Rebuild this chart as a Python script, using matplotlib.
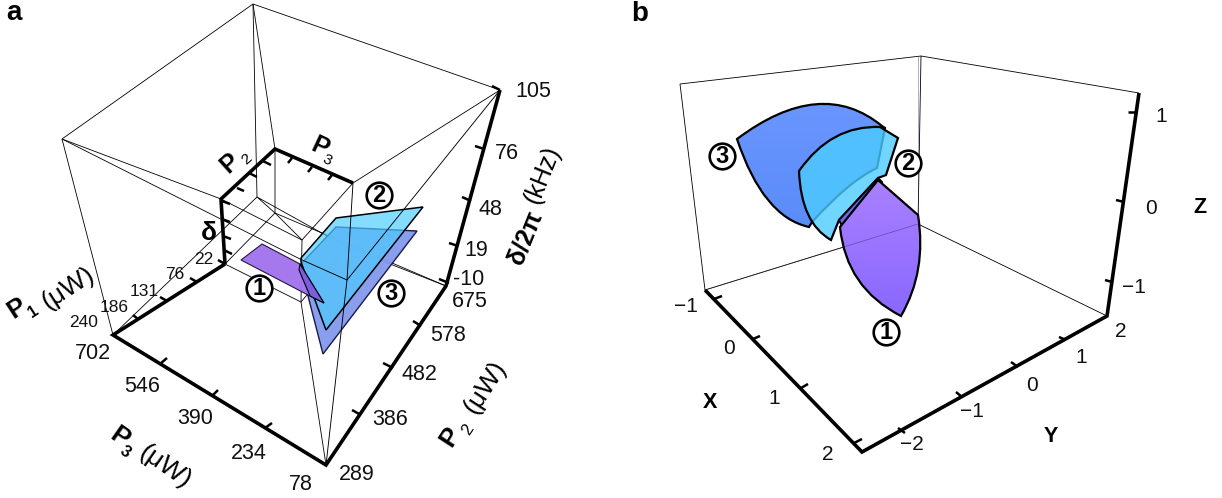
import numpy as np
import matplotlib
matplotlib.use('Agg')
import matplotlib.pyplot as plt
from matplotlib.path import Path
from matplotlib.patches import PathPatch
from matplotlib.colors import LinearSegmentedColormap

plt.rcParams['font.family'] = ['Liberation Sans', 'DejaVu Sans']

# Everything is read off the picture in image pixels (the cubes are already projected)
# panel a, thick box edges
a_thick = [[(225, 264), (113, 335), (326, 465), (446, 286), (500, 90)],
           [(225, 264), (221, 199), (275, 149), (353, 183)]]
# panel a, thin box edges
a_thin = [[(62, 139), (253, 4), (500, 90)], [(62, 139), (113, 335)],
          [(253, 4), (257, 197)], [(253, 4), (275, 149), (275, 213)],
          [(62, 139), (221, 199), (302, 240), (353, 183)],
          [(62, 139), (300, 259)],
          [(500, 90), (353, 183)],
          [(326, 465), (301, 302), (302, 240)], [(225, 264), (301, 302), (347, 247)],
          [(347, 247), (257, 197), (275, 213), (302, 240)],
          [(275, 213), (225, 264)], [(113, 335), (257, 197)],
          [(446, 286), (347, 247)], [(446, 286), (275, 213)]]
# thin edges that stay dark over the surfaces
a_front = [[(300, 259), (347, 280), (500, 90)], [(326, 465), (347, 280), (353, 183)]]
a_ticks = [[(160, 364), (167, 358)], [(212, 396), (218, 390)], [(265, 428), (272, 423)],
           [(133, 315), (138, 319)], [(160, 297), (167, 301)], [(190, 278), (197, 282)], [(218, 260), (225, 264)],
           [(352, 410), (361, 415)], [(383, 363), (393, 368)], [(413, 321), (421, 326)],
           [(449, 283), (439, 279)], [(449, 243), (458, 246)], [(462, 197), (471, 201)], [(475, 146), (484, 149)], [(492, 86), (500, 90)],
           [(222, 201), (230, 204)], [(222, 219), (230, 222)], [(223, 236), (231, 239)], [(224, 250), (232, 254)],
           [(237, 188), (244, 191)], [(249, 173), (257, 177)], [(263, 161), (271, 165)],
           [(288, 163), (292, 158)], [(308, 172), (312, 167)], [(328, 180), (332, 175)]]
a_poly3 = [(300, 265), (336, 227), (417, 231), (323, 354)]
a_poly2 = [(301, 258), (336, 218), (423, 207), (326, 330), (301, 262)]
a_poly1 = [(241, 260), (262, 244), (300, 264), (324, 303), (310, 296)]
a_fold1 = [(300, 264), (324, 303), (310, 296), (299, 270)]

a_p3_labels = ['702', '546', '390', '234', '78']
a_p3_xy = [(93, 353), (142, 386), (195, 418), (249, 453), (301, 484)]
a_p2_labels = ['289', '386', '482', '578', '675']
a_p2_xy = [(357, 474), (390, 419), (419, 374), (448, 335), (470, 301)]
a_d_labels = ['-10', '19', '48', '76', '105']
a_d_xy = [(469, 279), (476, 250), (490, 209), (507, 153), (533, 91)]
a_p1_labels = ['240', '186', '131', '76', '22']
a_p1_xy = [(84, 322), (114, 307), (144, 291), (175, 274), (204, 259)]

# panel b
b_thick = [[(705, 290), (862, 452), (1107, 316), (1139, 93)]]
b_thin = [[(705, 290), (680, 84), (921, 56), (1139, 93)], [(921, 56), (918, 224)],
          [(705, 290), (918, 224), (1107, 316)]]
b_ticks = [[(714, 299), (722, 296)], [(753, 339), (760, 336)], [(801, 388), (808, 384)], [(854, 443), (862, 439)],
           [(898, 428), (905, 433)], [(956, 392), (962, 397)], [(1011, 362), (1018, 367)], [(1059, 337), (1066, 340)],
           [(1128, 112), (1136, 112)], [(1116, 200), (1124, 202)], [(1105, 280), (1112, 282)]]
b_x_labels = ['\u22121', '0', '1', '2']
b_x_xy = [(686, 306), (729, 348), (774, 398), (828, 454)]
b_y_labels = ['\u22122', '\u22121', '0', '1', '2']
b_y_xy = [(912, 444), (972, 411), (1032, 385), (1081, 357), (1121, 331)]
b_z_labels = ['\u22121', '0', '1']
b_z_xy = [(1134, 287), (1151, 208), (1161, 116)]
# outlines: a 2-tuple is a straight step, a 4-tuple is control point + end point of a curve
b_shape3 = [(737, 139), (821, 76, 882, 126), (885, 128), (877, 168), (849, 181, 812, 222), (809, 227), (763, 217, 737, 139)]
b_shape2 = [(799, 171), (831, 125, 880, 127), (898, 138), (886, 175), (878, 178), (839, 220), (831, 240), (801, 223, 799, 171)]
b_shape1 = [(878, 180), (918, 215), (927, 271, 901, 316), (846, 288, 840, 227)]
b_strip = [(839, 220), (878, 178), (882, 182), (842, 226)]

circle_labels = ['1', '2', '3', '3', '2', '1']
circle_xy = [(259, 288), (379, 195), (391, 293), (722, 156), (908, 163), (886, 332)]

C_BLUE_A = '#8499ee'
C_CYAN = (0.29, 0.80, 1.0)
C_PURPLE_A = '#a374ee'
C_FOLD = '#7b5de0'


def make_path(shape):
    verts, codes = [shape[0][:2]], [Path.MOVETO]
    for s in shape[1:]:
        if len(s) == 2:
            verts.append(s)
            codes.append(Path.LINETO)
        else:
            verts += [s[:2], s[2:]]
            codes += [Path.CURVE3, Path.CURVE3]
    verts.append(shape[0][:2])
    codes.append(Path.CLOSEPOLY)
    return Path(verts, codes)


def lines(ax, segs, lw, color='black', z=1):
    for seg in segs:
        xy = np.array(seg)
        ax.plot(xy[:, 0], xy[:, 1], color=color, lw=lw, solid_joinstyle='miter', solid_capstyle='butt', zorder=z)


def labels(ax, texts, xy, size):
    for t, (x, y) in zip(texts, xy):
        ax.text(x, y, t, fontsize=size, ha='center', va='center', color='#111111', zorder=6)


def rot_text(ax, x, y, t, size, rot, **kw):
    ax.text(x, y, t, fontsize=size, rotation=rot, ha='center', va='center', rotation_mode='anchor', zorder=6, **kw)


def gradient_fill(ax, shape, c_top, c_bot, z):
    # vertical colour ramp clipped by the outline
    path = make_path(shape)
    ext = path.get_extents()
    cmap = LinearSegmentedColormap.from_list('g', [c_top, c_bot])
    im = ax.imshow(np.linspace(0, 1, 64).reshape(-1, 1), cmap=cmap, aspect='auto', zorder=z,
                   extent=(ext.x0, ext.x1, ext.y1, ext.y0))
    patch = PathPatch(path, transform=ax.transData, fc='none', ec='none')
    ax.add_patch(patch)
    im.set_clip_path(patch)


fig = plt.figure(figsize=(12.22, 4.98), dpi=100)
ax = fig.add_axes([0, 0, 1, 1])

# panel a
lines(ax, a_thin, 0.6)
ax.fill(*zip(*a_poly3), fc=C_BLUE_A, ec='#101040', lw=1.0, alpha=0.95, zorder=2)
ax.fill(*zip(*a_poly2), fc=C_CYAN + (0.68,), ec='black', lw=1.1, zorder=3)
ax.fill(*zip(*a_poly1), fc=C_PURPLE_A, ec='#201040', lw=0.8, alpha=0.97, zorder=3.5)
ax.fill(*zip(*a_fold1), fc=C_FOLD, ec='black', lw=0.8, zorder=3.6)
lines(ax, a_front, 0.65, z=3.4)
lines(ax, a_thick, 2.6, z=4)
lines(ax, a_ticks, 1.8, z=4)
labels(ax, a_p3_labels, a_p3_xy, 15.5)
labels(ax, a_p2_labels, a_p2_xy, 15.5)
labels(ax, a_d_labels, a_d_xy, 15.5)
labels(ax, a_p1_labels, a_p1_xy, 12.5)

rot_text(ax, 17, 308, 'P', 19, 33, fontweight='bold')
rot_text(ax, 33, 312, '1', 12, 33, fontweight='bold')
rot_text(ax, 68, 288, '(\u03bcW)', 19, 33)
rot_text(ax, 119, 437, 'P', 19, -35, fontweight='bold')
rot_text(ax, 125, 452, '3', 12, -35, fontweight='bold')
rot_text(ax, 165, 467, '(\u03bcW)', 19, -35)
rot_text(ax, 450, 437, 'P', 19, 57, fontweight='bold')
rot_text(ax, 468, 430, '2', 12, 57)
rot_text(ax, 485, 387, '(\u03bcW)', 19, 57)
rot_text(ax, 525, 238, '\u03b4/2\u03c0', 18, 68, fontweight='bold')
rot_text(ax, 543, 175, '(kHz)', 18, 68)
rot_text(ax, 230, 163, 'P', 18, 42, fontweight='bold')
rot_text(ax, 247, 159, '2', 11, 42)
rot_text(ax, 320, 147, 'P', 18, -25, fontweight='bold')
rot_text(ax, 327, 160, '3', 11, -25)
rot_text(ax, 209, 233, '\u03b4', 19, 0, fontweight='bold')

# panel b
lines(ax, b_thin, 0.6)
gradient_fill(ax, b_shape3, '#6a95ff', '#5a8cf8', 2)
ax.add_patch(PathPatch(make_path(b_shape3), fc='none', ec='black', lw=1.6, zorder=2.1))
ax.add_patch(PathPatch(make_path(b_shape2), fc=(0.30, 0.80, 1.0, 0.8), ec='black', lw=1.6, zorder=3))
ax.fill(*zip(*b_strip), fc='#6c6cf0', ec='black', lw=1.4, zorder=3.2)
gradient_fill(ax, b_shape1, '#a880ff', '#8a68ff', 3.4)
ax.add_patch(PathPatch(make_path(b_shape1), fc='none', ec='black', lw=1.6, zorder=3.5))
lines(ax, [[(705, 290), (918, 224)], [(918, 56), (918, 224)]], 0.5, color='#30205080', z=3.6)
lines(ax, b_thick, 2.6, z=4)
lines(ax, b_ticks, 1.8, z=4)
labels(ax, b_x_labels, b_x_xy, 15)
labels(ax, b_y_labels, b_y_xy, 15)
labels(ax, b_z_labels, b_z_xy, 15)
ax.text(710, 402, 'X', fontsize=15.5, fontweight='bold', ha='center', va='center')
ax.text(1051, 436, 'Y', fontsize=15.5, fontweight='bold', ha='center', va='center')
ax.text(1200, 207, 'Z', fontsize=15.5, fontweight='bold', ha='center', va='center')

for t, (x, y) in zip(circle_labels, circle_xy):
    ax.scatter([x], [y], s=340, fc='white', ec='black', lw=1.9, zorder=7)
    ax.text(x, y + 0.5, t, fontsize=17, fontweight='bold', ha='center', va='center', zorder=8)

ax.text(14, 20, 'a', fontsize=20, fontweight='bold', ha='center', va='baseline')
ax.text(640, 21, 'b', fontsize=20, fontweight='bold', ha='center', va='baseline')

ax.set_xlim(0, 1222)
ax.set_ylim(498, 0)
ax.axis('off')
fig.savefig('out.png', dpi=100)
